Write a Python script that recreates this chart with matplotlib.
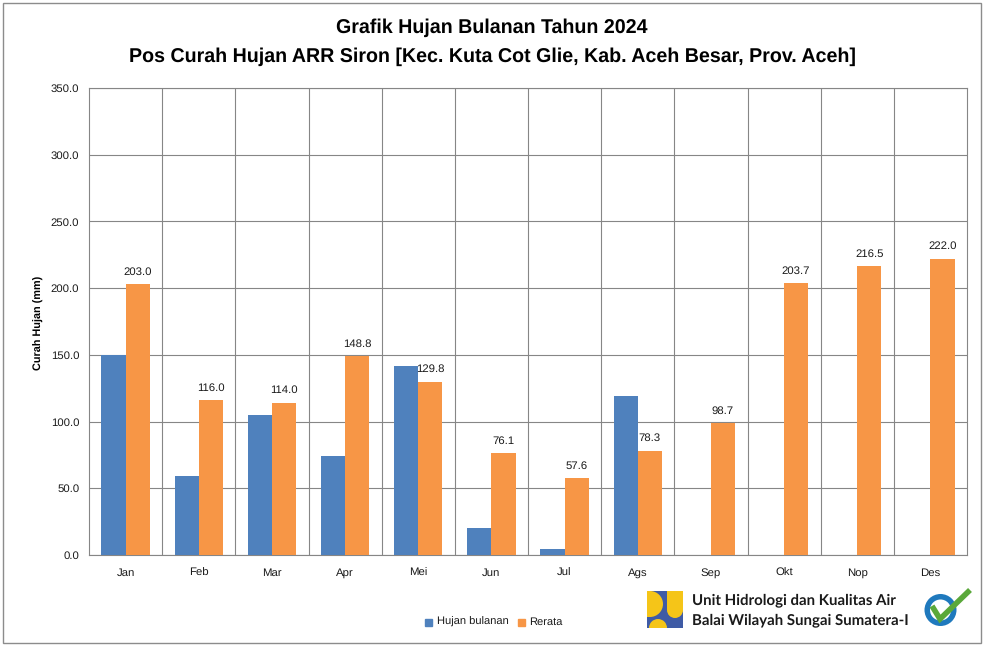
import matplotlib
matplotlib.use("Agg")
import matplotlib.pyplot as plt
from matplotlib.patches import Rectangle, Circle, Wedge

months = ["Jan", "Feb", "Mar", "Apr", "Mei", "Jun", "Jul", "Ags", "Sep", "Okt", "Nop", "Des"]
hujan = [150.0, 59.5, 105.0, 74.5, 142.0, 20.5, 4.5, 119.5, 0, 0, 0, 0]
rerata = [203.0, 116.0, 114.0, 148.8, 129.8, 76.1, 57.6, 78.3, 98.7, 203.7, 216.5, 222.0]
yticks = [0, 50, 100, 150, 200, 250, 300, 350]

W, H = 984, 645
plt.rcParams["font.family"] = ["Liberation Sans", "DejaVu Sans"]
plt.rcParams["text.hinting"] = "none"

fig = plt.figure(figsize=(W / 100, H / 100), dpi=100)
fig.patches.append(Rectangle((3 / W, 1 - 643 / H), 978 / W, 640 / H, transform=fig.transFigure,
                             fill=False, edgecolor="#8c8c8c", linewidth=1))

ax = fig.add_axes([89 / W, 1 - 555 / H, 878 / W, 467 / H])
x = list(range(12))
width = 0.33
ax.bar([i - width / 2 for i in x], hujan, width, color="#4f81bd", label="Hujan bulanan", zorder=3)
ax.bar([i + width / 2 for i in x], rerata, width, color="#f79646", label="Rerata", zorder=3)
for i, v in enumerate(rerata):
    ax.text(i + width / 2, v + 5.5, "%.1f" % v, ha="center", va="bottom", fontsize=8.2, color="#1a1a1a", zorder=4)

ax.set_xlim(-0.5, 11.5)
ax.set_ylim(0, 350)
ax.set_yticks(yticks)
ax.set_yticklabels(["%.1f" % v for v in yticks], fontsize=8.2, color="#1a1a1a")
ax.set_xticks(x)
ax.set_xticklabels(months, fontsize=8.2, va="baseline", color="#1a1a1a")
for b in [i + 0.5 for i in x[:-1]]:
    ax.axvline(b, color="#868686", linewidth=0.8, zorder=1)
ax.grid(True, axis="y", color="#868686", linewidth=0.8, zorder=1)
ax.tick_params(axis="x", length=0, pad=14.7)
ax.tick_params(axis="y", length=0, pad=7)
for s in ax.spines.values():
    s.set_color("#868686")
    s.set_linewidth(0.8)
fig.text(39 / W, 1 - 322.5 / H, "Curah Hujan (mm)", fontsize=7.8, fontweight="bold", rotation=90,
         ha="center", va="center")

fig.text(492 / W, 1 - 28 / H, "Grafik Hujan Bulanan Tahun 2024", ha="center", va="center",
         fontsize=14.1, fontweight="bold")
fig.text(492 / W, 1 - 57 / H, "Pos Curah Hujan ARR Siron [Kec. Kuta Cot Glie, Kab. Aceh Besar, Prov. Aceh]",
         ha="center", va="center", fontsize=14.1, fontweight="bold")

# legend
fig.patches.append(Rectangle((425 / W, 1 - 626 / H), 7 / W, 7 / H, transform=fig.transFigure, color="#4f81bd"))
fig.text(437 / W, 1 - 622 / H, "Hujan bulanan", fontsize=8, va="center", color="#1a1a1a")
fig.patches.append(Rectangle((518 / W, 1 - 626 / H), 7 / W, 7 / H, transform=fig.transFigure, color="#f79646"))
fig.text(529 / W, 1 - 622 / H, "Rerata", fontsize=8, va="center", color="#1a1a1a")

# logo drawn in pixel coordinates on a full figure overlay
ov = fig.add_axes([0, 0, 1, 1], facecolor="none")
ov.set_xlim(0, W)
ov.set_ylim(H, 0)
ov.axis("off")
ov.add_patch(Rectangle((647, 591), 36, 37, color="#3f5ba5", linewidth=0))
ov.add_patch(Rectangle((647, 591), 3, 26, color="#f5c518", linewidth=0))
ov.add_patch(Wedge((650, 604), 13, -90, 90, color="#f5c518", linewidth=0))
ov.add_patch(Rectangle((667, 591), 16, 19, color="#f5c518", linewidth=0))
ov.add_patch(Wedge((675, 610), 8, 0, 180, color="#f5c518", linewidth=0))
ov.add_patch(Wedge((658, 628), 9, 180, 360, color="#f5c518", linewidth=0))

ov.text(692, 600, "Unit Hidrologi dan Kualitas Air", fontsize=10.85, fontweight="bold",
        va="center", color="#1a1a1a", family=["Lato", "DejaVu Sans"])
ov.text(692, 620, "Balai Wilayah Sungai Sumatera-I", fontsize=10.85, fontweight="bold",
        va="center", color="#1a1a1a", family=["Lato", "DejaVu Sans"])

# certified badge
ov.add_patch(Circle((940.5, 610), 16, facecolor="#1f79bd", edgecolor="none"))
ov.add_patch(Circle((940.5, 610), 10.5, facecolor="white", edgecolor="none"))
ov.plot([932, 940, 970], [606, 619, 590], color="#5aa83a", linewidth=4, solid_capstyle="butt",
        solid_joinstyle="miter")

fig.savefig("out.png", dpi=100)
